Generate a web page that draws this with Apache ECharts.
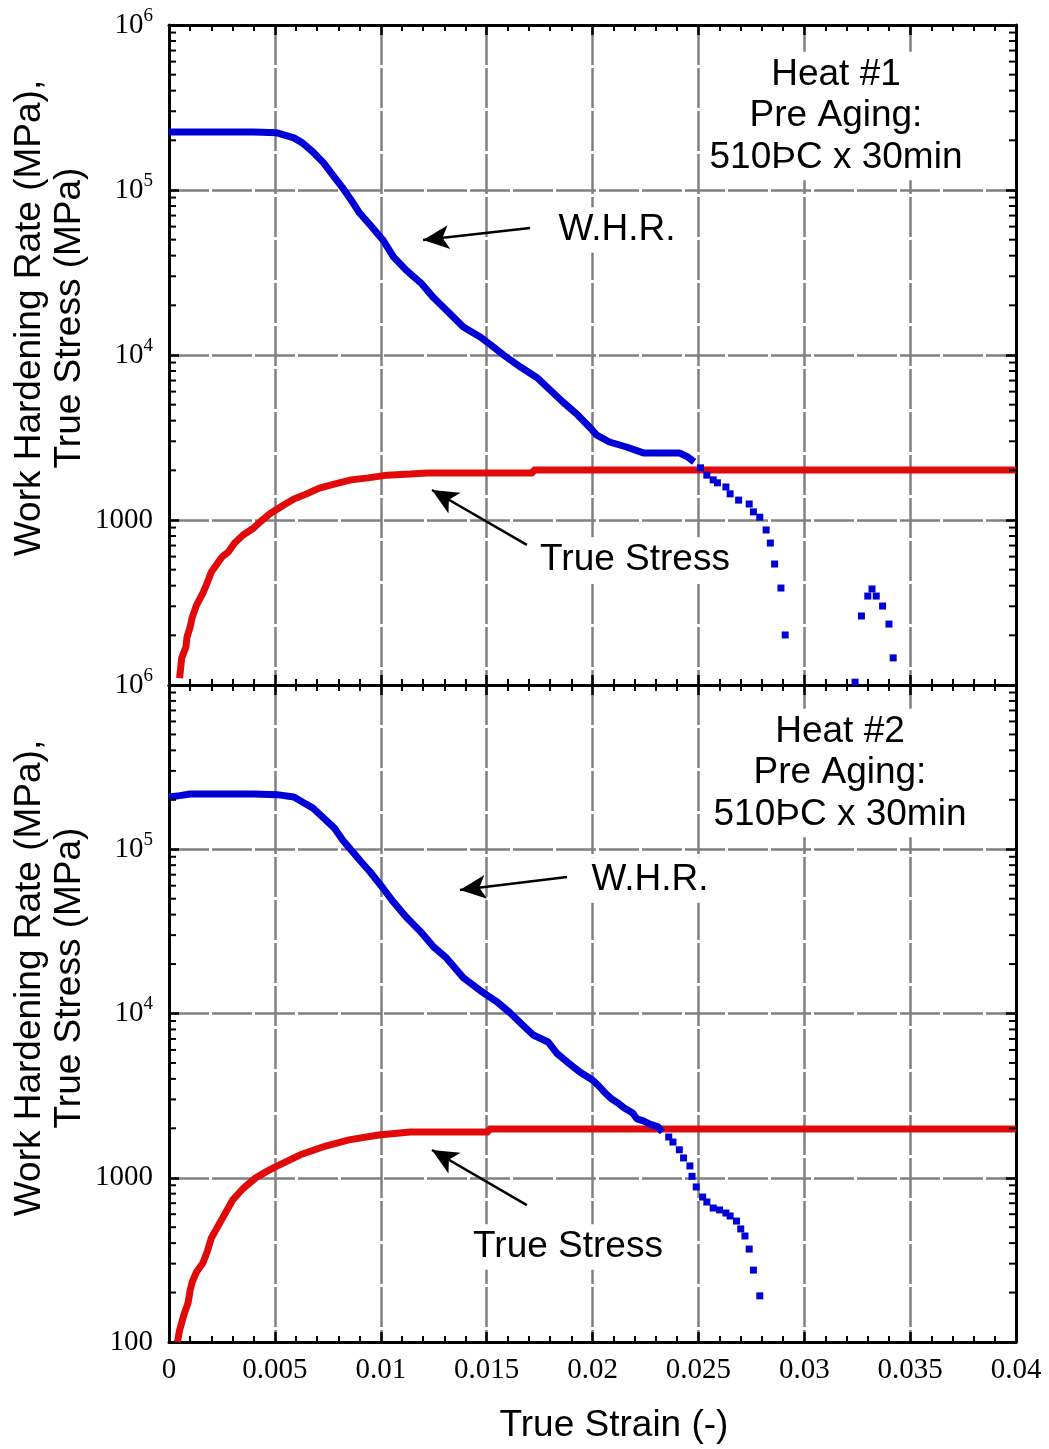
<!DOCTYPE html>
<html><head><meta charset="utf-8">
<script src="https://cdn.jsdelivr.net/npm/echarts@6/dist/echarts.min.js"></script>
<style>html,body{margin:0;padding:0;background:#fff}#c{width:1049px;height:1449px}</style>
</head><body><div id="c"></div>
<script>
// ---- Data ----
const strainTicks = [0, 0.005, 0.01, 0.015, 0.02, 0.025, 0.03, 0.035, 0.04];
const stressTicks = [100, 1000, 1e4, 1e5, 1e6];
const stressMinorTicks = [200,300,400,500,600,700,800,900,2000,3000,4000,5000,6000,7000,8000,9000,2e4,3e4,4e4,5e4,6e4,7e4,8e4,9e4,2e5,3e5,4e5,5e5,6e5,7e5,8e5,9e5];

// Heat #1 : work hardening rate (dense part and sparse tail), true stress
const whr1Main = [[0,2.25e5],[0.001,2.25e5],[0.002,2.25e5],[0.003,2.25e5],[0.004,2.25e5],[0.0051,2.22e5],[0.0059,2.07e5],[0.0063,1.93e5],[0.0068,1.70e5],[0.0073,1.46e5],[0.0078,1.20e5],[0.0082,1.03e5],[0.0086,8.7e4],[0.0090,7.25e4],[0.0095,6.14e4],[0.0101,4.98e4],[0.0106,3.93e4],[0.0112,3.27e4],[0.0119,2.73e4],[0.0125,2.22e4],[0.0131,1.87e4],[0.0139,1.48e4],[0.0147,1.285e4],[0.0152,1.15e4],[0.0158,1.0e4],[0.0166,8450],[0.0174,7260],[0.0181,5970],[0.0186,5190],[0.0193,4330],[0.0199,3610],[0.0202,3270],[0.0208,2970],[0.0216,2770],[0.0224,2550],[0.0232,2550],[0.0241,2550],[0.0245,2410],[0.0248,2250]];
const whr1Tail = [[0.0251,2070],[0.0254,1870],[0.0257,1750],[0.0259,1680],[0.0263,1585],[0.0265,1440],[0.0269,1320],[0.0274,1250],[0.0276,1120],[0.0279,1040],[0.0282,870],[0.0284,725],[0.0286,541],[0.0289,387],[0.0291,201],[0.0324,104],[0.0327,262],[0.0330,346],[0.0332,382],[0.0334,346],[0.0337,301],[0.0340,234],[0.0342,146]];
const stress1 = [[0.0005,110],[0.0006,146],[0.0008,170],[0.00085,195],[0.001,225],[0.0011,258],[0.0013,305],[0.0016,361],[0.0018,415],[0.002,484],[0.0023,549],[0.0025,597],[0.0028,640],[0.0031,725],[0.0035,811],[0.004,894],[0.0043,972],[0.0048,1100],[0.0054,1230],[0.0059,1340],[0.0065,1440],[0.0071,1560],[0.0078,1650],[0.0086,1750],[0.0094,1800],[0.0103,1870],[0.0114,1900],[0.0122,1930],[0.0172,1930],[0.0172,2010],[0.04,2010]];

// Heat #2
const whr2Main = [[0,2.08e5],[0.0005,2.12e5],[0.001,2.17e5],[0.002,2.17e5],[0.003,2.17e5],[0.004,2.17e5],[0.0051,2.15e5],[0.0059,2.08e5],[0.0063,1.94e5],[0.0068,1.78e5],[0.0073,1.55e5],[0.0078,1.35e5],[0.0082,1.14e5],[0.0086,9.9e4],[0.0090,8.6e4],[0.0095,7.27e4],[0.0101,5.81e4],[0.0106,4.77e4],[0.0112,3.87e4],[0.0119,3.13e4],[0.0125,2.54e4],[0.0131,2.18e4],[0.0139,1.65e4],[0.0148,1.35e4],[0.0155,1.175e4],[0.0161,1.01e4],[0.0167,8510],[0.0172,7400],[0.0179,6710],[0.0183,5750],[0.0188,5070],[0.0194,4400],[0.0200,3940],[0.0203,3620],[0.0206,3280],[0.0209,3020],[0.0212,2850],[0.0215,2660],[0.0219,2480],[0.0221,2280],[0.0224,2220],[0.0227,2120],[0.0231,2040],[0.0233,1900]];
const whr2Tail = [[0.0236,1770],[0.0238,1650],[0.0241,1480],[0.0243,1320],[0.0246,1180],[0.0247,1020],[0.0249,879],[0.0252,763],[0.0254,712],[0.0257,654],[0.026,637],[0.0263,610],[0.0265,585],[0.0268,545],[0.027,488],[0.0272,442],[0.0274,368],[0.0276,274],[0.0279,191]];
const stress2 = [[0.0004,100],[0.0005,118],[0.0007,146],[0.0009,173],[0.001,207],[0.0011,232],[0.0013,267],[0.0016,303],[0.0018,353],[0.002,430],[0.0025,560],[0.003,730],[0.0035,860],[0.0041,1000],[0.0046,1090],[0.005,1160],[0.0062,1380],[0.0074,1560],[0.0085,1700],[0.0099,1820],[0.0114,1900],[0.0151,1900],[0.0151,1980],[0.04,1980]];

// Annotation arrows (data coordinates: [from, to])
const whrArrow1 = [[0.01705,5.88e4],[0.0120,4.98e4]];
const stressArrow1 = [[0.0169,706],[0.01242,1520]];
const whrArrow2 = [[0.0188,6.78e4],[0.01374,5.65e4]];
const stressArrow2 = [[0.0169,682],[0.01242,1476]];

// ---- Styles ----
const RED = '#e00a0a', BLUE = '#0000d6';
const SERIF = '"Liberation Serif", "Times New Roman", serif';
const SANS = '"Liberation Sans", Arial, sans-serif';
const gridLine = {show:true, lineStyle:{color:'#808080', width:2.5, type:[40,3]}};

function supFmt(hideMin){
  return function(v){
    const e = Math.round(Math.log10(v));
    if (hideMin && e === 2) return '';
    if (e >= 4) return '{b|10}{s|' + e + '}';
    return '{b|' + Math.round(v) + '}';
  };
}
const yRich = {
  b:{fontFamily:SERIF, fontSize:29, color:'#000'},
  s:{fontFamily:SERIF, fontSize:19, color:'#000', padding:[0,0,18,0]}
};

function xAx(grid, pos, labels){
  return {
    gridIndex:grid, type:'value', position:pos, min:0, max:0.04, interval:0.005,
    axisLine:{show:true, onZero:false, lineStyle:{color:'#000', width:3}},
    axisTick:{show:true, inside:true, length:10, lineStyle:{color:'#000', width:2.5}},
    minorTick:{show:true, splitNumber:5, length:6, lineStyle:{color:'#000', width:2}},
    axisLabel:{show:labels, margin:14, fontFamily:SERIF, fontSize:29, color:'#000',
      formatter:v => String(+v.toFixed(3)), showMinLabel:true, showMaxLabel:true},
    splitLine: pos === 'bottom' ? gridLine : {show:false}
  };
}
function yAx(grid, pos, labels, hideMin){
  return {
    gridIndex:grid, type:'log', logBase:10, position:pos, min:stressTicks[0], max:stressTicks[stressTicks.length-1],
    axisLine:{show:true, onZero:false, lineStyle:{color:'#000', width:3}},
    axisTick:{show:true, inside:true, length:10, lineStyle:{color:'#000', width:2.5}},
    minorTick:{show:false},
    axisLabel:{show:labels, margin:16, formatter:supFmt(hideMin), rich:yRich, showMinLabel:true, showMaxLabel:true},
    splitLine: pos === 'left' ? gridLine : {show:false}
  };
}
function arrow(a){
  return {silent:true, animation:false, symbol:['none','arrow'], symbolSize:[18,26],
    label:{show:false}, lineStyle:{color:'#000', width:2.5, type:'solid'},
    data:[[{coord:a[0]},{coord:a[1]}]]};
}
function minorTickSeries(xi, yi){
  return {type:'custom', xAxisIndex:xi, yAxisIndex:yi, silent:true, clip:false, z:5,
    data: stressMinorTicks.map(v => [0, v]),
    renderItem: function(params, api){
      const y = api.coord([0, api.value(1)])[1];
      const cs = params.coordSys;
      const st = {stroke:'#000', lineWidth:2};
      return {type:'group', children:[
        {type:'line', shape:{x1:cs.x, y1:y, x2:cs.x + 7, y2:y}, style:st},
        {type:'line', shape:{x1:cs.x + cs.width - 7, y1:y, x2:cs.x + cs.width, y2:y}, style:st}
      ]};
    }};
}
function txt(x, y, t){
  return {type:'text', x:x, y:y, z:100, style:{text:t, fontFamily:SANS, fontSize:37, fill:'#000', align:'center', verticalAlign:'middle', lineHeight:41.5, backgroundColor:'#fff', padding:[2,4]}};
}

const chart = echarts.init(document.getElementById('c'), null, {renderer:'canvas'});
chart.setOption({
  animation:false,
  backgroundColor:'#fff',
  grid:[
    {left:169, top:25, width:847, height:660, outerBoundsMode:'none'},
    {left:169, top:685, width:847, height:657, outerBoundsMode:'none'}
  ],
  xAxis:[xAx(0,'bottom',false), xAx(0,'top',false), xAx(1,'bottom',true), xAx(1,'top',false)],
  yAxis:[yAx(0,'left',true,true), yAx(0,'right',false,false), yAx(1,'left',true,false), yAx(1,'right',false,false)],
  series:[
    minorTickSeries(0,0),
    minorTickSeries(2,2),
    {type:'line', xAxisIndex:0, yAxisIndex:0, data:stress1, symbol:'none', z:3,
      lineStyle:{color:RED, width:7, cap:'butt'}, markLine:arrow(stressArrow1)},
    {type:'line', xAxisIndex:0, yAxisIndex:0, data:whr1Main, symbol:'none', z:4,
      lineStyle:{color:BLUE, width:7, cap:'butt'}, markLine:arrow(whrArrow1)},
    {type:'scatter', xAxisIndex:0, yAxisIndex:0, data:whr1Tail, symbol:'rect', symbolSize:7, z:4,
      itemStyle:{color:BLUE, opacity:1}},
    {type:'line', xAxisIndex:2, yAxisIndex:2, data:stress2, symbol:'none', z:3,
      lineStyle:{color:RED, width:7, cap:'butt'}, markLine:arrow(stressArrow2)},
    {type:'line', xAxisIndex:2, yAxisIndex:2, data:whr2Main, symbol:'none', z:4,
      lineStyle:{color:BLUE, width:7, cap:'butt'}, markLine:arrow(whrArrow2)},
    {type:'scatter', xAxisIndex:2, yAxisIndex:2, data:whr2Tail, symbol:'rect', symbolSize:7, z:4,
      itemStyle:{color:BLUE, opacity:1}}
  ],
  graphic:[
    txt(836, 116, 'Heat #1\nPre Aging:\n510ÞC x 30min'),
    txt(617, 230, 'W.H.R.'),
    txt(635, 560, 'True Stress'),
    txt(840, 773, 'Heat #2\nPre Aging:\n510ÞC x 30min'),
    txt(650, 880, 'W.H.R.'),
    txt(568, 1247, 'True Stress'),
    {type:'text', x:614, y:1426, style:{text:'True Strain (-)', fontFamily:SANS, fontSize:37, fill:'#000', align:'center', verticalAlign:'middle'}},
    {type:'text', x:50, y:318, rotation:Math.PI/2, style:{text:'Work Hardening Rate (MPa),\nTrue Stress (MPa)', fontFamily:SANS, fontSize:37, fill:'#000', align:'center', verticalAlign:'middle', lineHeight:40}},
    {type:'text', x:50, y:978, rotation:Math.PI/2, style:{text:'Work Hardening Rate (MPa),\nTrue Stress (MPa)', fontFamily:SANS, fontSize:37, fill:'#000', align:'center', verticalAlign:'middle', lineHeight:40}}
  ]
});
</script>
</body></html>
